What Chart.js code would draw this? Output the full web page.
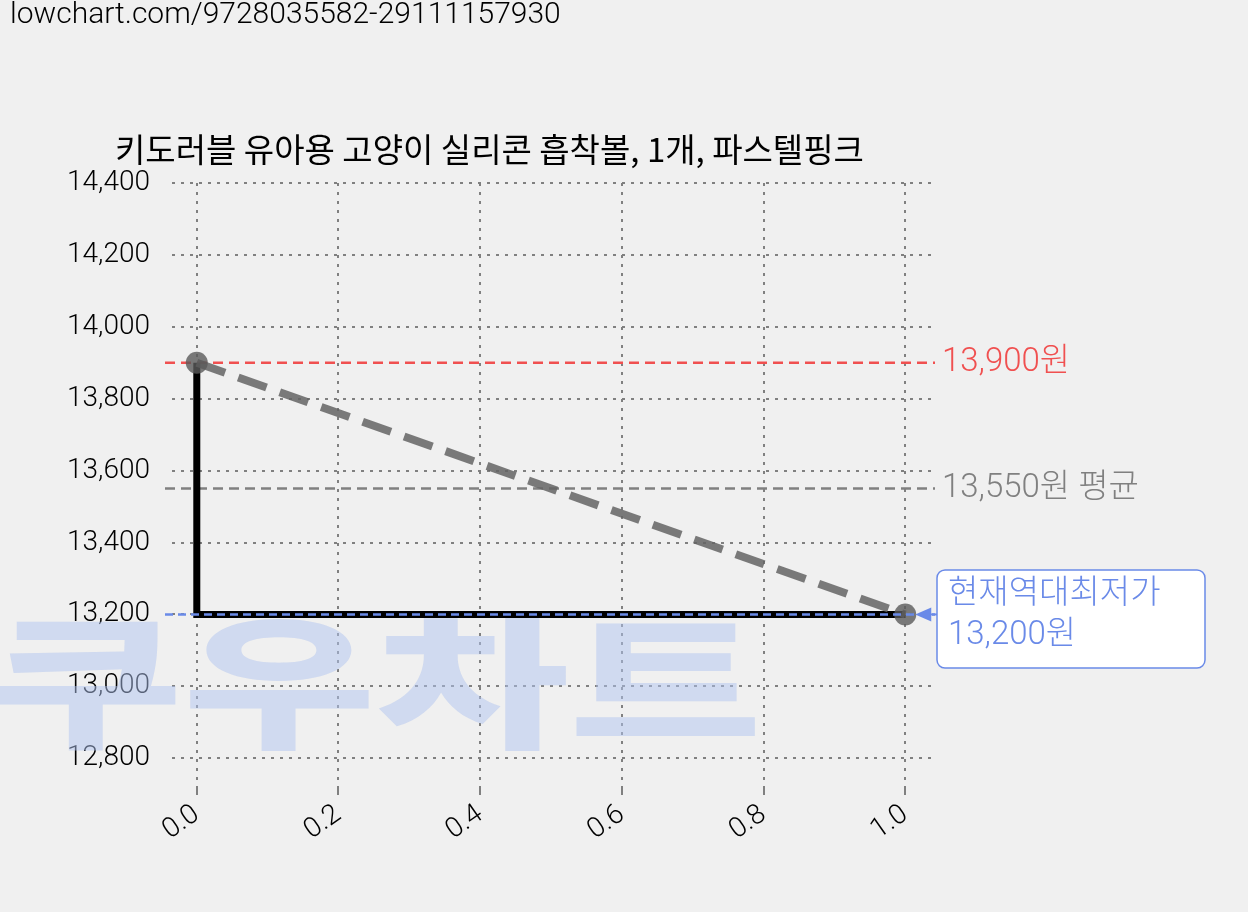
<!DOCTYPE html><html><head><meta charset="utf-8">
<script src="https://cdn.jsdelivr.net/npm/chart.js@4/dist/chart.umd.min.js"></script>
<style>html,body{margin:0;background:#f0f0f0}canvas{display:block}</style></head><body>
<div style="width:1248px;height:912px"><canvas id="c"></canvas></div>
<script>
const titleText="키도러블 유아용 고양이 실리콘 흡착볼, 1개, 파스텔핑크";
const urlText="lowchart.com/9728035582-29111157930";
const stepX=[0,0,1];const stepY=[13900,13200,13200];
const trendX=[0,1];const trendY=[13900,13200];
const maxPrice=13900, avgPrice=13550, minPrice=13200;
const yTicks=[12800,13000,13200,13400,13600,13800,14000,14200,14400];
const xTicks=[0,0.2,0.4,0.6,0.8,1.0];
const F="Roboto, 'Noto Sans CJK KR', sans-serif";
const KF="'Noto Sans CJK KR', Roboto, sans-serif";
function hline(c,y,v,col){const p=y.getPixelForValue(v);c.strokeStyle=col;c.beginPath();c.moveTo(165,p);c.lineTo(935,p);c.stroke();}
const overlay={id:'ov',
 beforeDatasetsDraw(ch){const c=ch.ctx,y=ch.scales.y;
  c.save();c.font="900 200px "+KF;c.fillStyle="rgba(175,195,240,0.5)";c.textBaseline="middle";c.textAlign="left";
  c.translate(0,y.getPixelForValue(13000));c.scale(1.05,0.72);c.fillText("쿠우차트",-10,-5);c.restore();
  c.save();c.lineWidth=2.5;c.setLineDash([10,6]);
  hline(c,y,maxPrice,'#f05050');hline(c,y,avgPrice,'#808080');c.restore();},
 afterDraw(ch){const c=ch.ctx,y=ch.scales.y,x=ch.scales.x;c.save();
  c.lineWidth=2.5;c.setLineDash([8,5]);hline(c,y,minPrice,'#6a8ae8');c.setLineDash([]);
  c.fillStyle='#000';c.font="300 30px "+F;c.textBaseline='top';c.textAlign='left';c.fillText(urlText,10,0);
  c.font="33px "+KF;c.textBaseline='middle';c.fillText(titleText,115,149);
  c.font="300 33px "+F;
  c.fillStyle='#f05050';c.fillText("13,900원",942,y.getPixelForValue(maxPrice));
  c.fillStyle='#808080';c.fillText("13,550원 평균",942,y.getPixelForValue(avgPrice));
  const py=y.getPixelForValue(minPrice),px=x.getPixelForValue(1);
  c.fillStyle='#fff';c.strokeStyle='#6a8ae8';c.lineWidth=1.5;c.beginPath();c.roundRect(937,570,268,98,8);c.fill();c.stroke();
  c.fillStyle='#6a8ae8';c.fillText("현재역대최저가",948,595);c.fillText("13,200원",948,636);
  c.beginPath();c.moveTo(px+10,py);c.lineTo(px+26,py-7);c.lineTo(px+26,py+7);c.fill();
  c.lineWidth=2;c.beginPath();c.moveTo(px+24,py);c.lineTo(937,py);c.stroke();
  c.restore();}};
new Chart(document.getElementById('c'),{type:'scatter',
 data:{datasets:[
  {data:stepX.map((v,i)=>({x:v,y:stepY[i]})),showLine:true,borderColor:'#000',borderWidth:7,pointRadius:0,order:2},
  {data:trendX.map((v,i)=>({x:v,y:trendY[i]})),showLine:true,borderColor:'rgba(100,100,100,0.85)',borderWidth:8,borderDash:[30,14],pointRadius:11,pointBackgroundColor:'rgba(90,90,90,0.8)',pointBorderWidth:0,order:1}]},
 options:{responsive:true,maintainAspectRatio:false,animation:false,devicePixelRatio:1,
  layout:{padding:{top:183,right:313,left:0,bottom:0}},
  plugins:{legend:{display:false},tooltip:{enabled:false}},
  scales:{
   x:{type:'linear',min:-0.035,max:1.042,afterBuildTicks:s=>{s.ticks=xTicks.map(v=>({value:v}))},afterFit:s=>{s.height=125},
    border:{display:false,dash:[3,6]},grid:{color:'#808080',lineWidth:2,tickLength:8},
    ticks:{maxRotation:35,minRotation:35,color:'#000',font:{family:F,size:28,weight:300},callback:v=>v.toFixed(1)}},
   y:{min:12720,max:14400,afterBuildTicks:s=>{s.ticks=yTicks.map(v=>({value:v}))},afterFit:s=>{s.width=172},
    border:{display:false,dash:[3,6]},grid:{color:'#808080',lineWidth:2,tickLength:0},
    ticks:{color:'#000',padding:22,font:{family:F,size:28,weight:300},callback:v=>v.toLocaleString('en-US')}}}},
 plugins:[overlay]});
</script></body></html>
